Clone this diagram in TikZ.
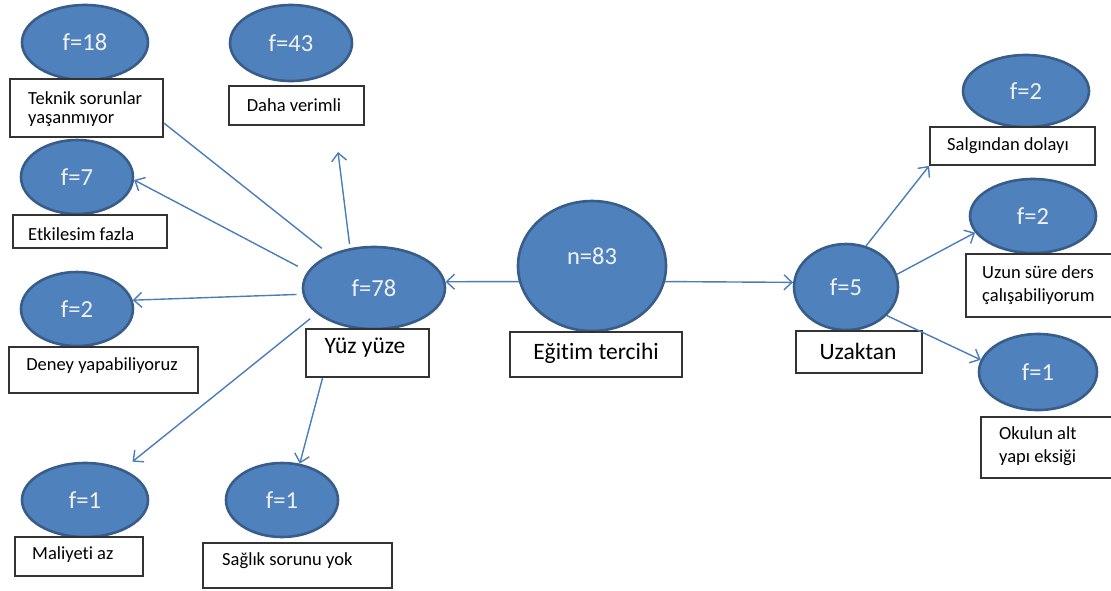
\documentclass[tikz,border=0pt]{standalone}
\usepackage{fontspec}
\setmainfont{Carlito}[Ligatures={NoCommon}]
\usetikzlibrary{shapes.geometric,arrows.meta,calc}
\definecolor{ellfill}{HTML}{4F81BD}
\definecolor{elldraw}{HTML}{385D8A}
\definecolor{linkcol}{HTML}{4A7EBB}
\definecolor{boxdraw}{HTML}{333333}
\definecolor{elltext}{HTML}{F2F2F2}
\tikzset{
  ell/.style={ellipse, fill=ellfill, draw=elldraw, line width=2.6pt, inner sep=0pt,
    text=elltext, font=\fontsize{24.5}{26}\selectfont},
  lbl/.style={rectangle, fill=white, draw=boxdraw, line width=1.8pt, inner sep=0pt},
  bigtxt/.style={font=\fontsize{23.5}{26}\selectfont, inner sep=0pt},
  smalltxt/.style={font=\fontsize{18.5}{23}\selectfont, inner sep=0pt, align=left},
  link/.style={draw=linkcol, line width=1.4pt},
  arr/.style={link, -{Straight Barb[length=8pt,width=15pt,line width=1.4pt]}}
}
\begin{document}
\begin{tikzpicture}[x=1pt,y=-1pt]
\useasboundingbox (0,0) rectangle (1111,590);
% ellipses
\node[ell, minimum width=126pt, minimum height=75pt] (e18) at (85,42.5) {f=18};
\node[ell, minimum width=122pt, minimum height=76pt] (e43) at (291,43) {f=43};
\node[ell, minimum width=112pt, minimum height=74pt] (e7) at (77,177) {f=7};
\node[ell, minimum width=112pt, minimum height=74pt] (e2a) at (77,309) {f=2};
\node[ell, minimum width=142pt, minimum height=82pt] (e78) at (374,288) {f=78};
\node[ell, minimum width=126pt, minimum height=74pt] (e1a) at (85,500) {f=1};
\node[ell, minimum width=112pt, minimum height=74pt] (e1b) at (282,500) {f=1};
\node[ell, minimum width=148pt, minimum height=130pt] (n83) at (592,266) {};
\node[inner sep=0pt, text=elltext, font=\fontsize{24.5}{26}\selectfont] (n83t) at (592,256) {n=83};
\node[ell, minimum width=104pt, minimum height=86pt] (e5) at (846,287) {f=5};
\node[ell, minimum width=126pt, minimum height=72pt] (e2b) at (1026,91) {f=2};
\node[ell, minimum width=126pt, minimum height=74pt] (e2c) at (1033,216) {f=2};
\node[ell, minimum width=118pt, minimum height=76pt] (e1c) at (1038,372) {f=1};
% boxes
\node[lbl, minimum width=153pt, minimum height=58pt] (tk) at (86.5,108) {};
\node[smalltxt, font=\fontsize{18.5}{19.5}\selectfont, anchor=west] (tkt) at (28,109) {Teknik sorunlar\\yaşanmıyor};
\node[lbl, minimum width=135pt, minimum height=39pt] (dv) at (296.5,105.5) {};
\node[smalltxt] (dvt) at (294,105) {Daha verimli};
\node[lbl, minimum width=154pt, minimum height=33pt] (ek) at (90,231.5) {};
\node[smalltxt, anchor=west] (ekt) at (28,234) {Etkilesim fazla};
\node[lbl, minimum width=189pt, minimum height=46pt] (dn) at (103.5,370) {};
\node[smalltxt] (dnt) at (102,366) {Deney yapabiliyoruz};
\node[lbl, minimum width=123pt, minimum height=48pt] (yy) at (367.5,353) {};
\node[bigtxt] (yyt) at (365,348) {Yüz yüze};
\node[lbl, minimum width=128pt, minimum height=39pt] (ma) at (79,556.5) {};
\node[smalltxt, anchor=west] (mat) at (32,555) {Maliyeti az};
\node[lbl, minimum width=189pt, minimum height=45pt] (sg) at (297.5,565.5) {};
\node[smalltxt, anchor=west] (sgt) at (222,561) {Sağlık sorunu yok};
\node[lbl, minimum width=172pt, minimum height=45pt] (et) at (596,354.5) {};
\node[bigtxt] (ett) at (596,353) {Eğitim tercihi};
\node[lbl, minimum width=165pt, minimum height=38pt] (sd) at (1012.5,146) {};
\node[smalltxt] (sdt) at (1008,146) {Salgından dolayı};
\node[lbl, minimum width=152pt, minimum height=63pt] (uz) at (1042,285.5) {};
\node[smalltxt, anchor=west] (uzt) at (982,285) {Uzun süre ders\\çalışabiliyorum};
\node[lbl, minimum width=137pt, minimum height=61pt] (ok) at (1049.5,447.5) {};
\node[smalltxt, anchor=west] (okt) at (999,446) {Okulun alt\\yapı eksiği};
\node[lbl, minimum width=126pt, minimum height=42pt] (uk) at (859,352) {};
\node[bigtxt] (ukt) at (858,351) {Uzaktan};
% free end
\coordinate (dvtip) at (338,152);
% connectors
\draw[arr] (n83.192) -- (e78.5);
\draw[arr] (n83.-12) -- (e5.175);
\draw[arr, shorten <=4pt] (e78.121) -- (dvtip);
\draw[arr, shorten <=11pt] (e78.166) -- (e7.-3);
\draw[link, shorten >=10pt] (tk.-11) -- (e78.143.8);
\draw[arr, shorten <=6pt] (e78.185.3) -- (e2a.9);
\draw[arr, shorten <=8pt, shorten >=12pt] (e78.204.7) -- (e1a.39.6);
\draw[arr] (yy.209.5) -- (e1b.64);
\draw[arr] (e5.64) -- (sd.south west);
\draw[arr] (e5.14) -- (e2c.196);
\draw[arr] (e5.-35) -- (e1c.168);
\end{tikzpicture}
\end{document}
